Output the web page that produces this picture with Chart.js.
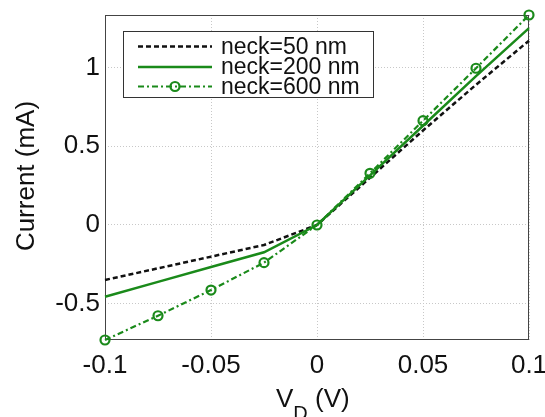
<!DOCTYPE html>
<html>
<head>
<meta charset="utf-8">
<script src="https://cdn.jsdelivr.net/npm/chart.js@4"></script>
<style>
  html, body { margin: 0; padding: 0; background: #fff; }
  #wrap { width: 545px; height: 417px; }
</style>
</head>
<body>
<div id="wrap"><canvas id="iv-chart"></canvas></div>
<script>
// drain voltage (V)
const vd = [-0.1, -0.075, -0.05, -0.025, 0, 0.025, 0.05, 0.075, 0.1];
// current (mA) per neck width
const neck50 = [-0.349, -0.275, -0.201, -0.127, 0, 0.30, 0.60, 0.89, 1.17];
const neck200 = [-0.455, -0.361, -0.267, -0.173, 0, 0.315, 0.63, 0.945, 1.25];
const neck600 = [-0.73, -0.576, -0.413, -0.239, 0, 0.328, 0.662, 0.995, 1.333];
const seriesLabels = ['neck=50 nm', 'neck=200 nm', 'neck=600 nm'];
const yTicks = [-0.5, 0, 0.5, 1];

const green = '#1a8a1a';
const fontFam = '"Liberation Sans", Arial, sans-serif';

const toPts = ys => vd.map((x, i) => ({x: x, y: ys[i]}));

// box round the plot, legend and axis titles
const frame = {
    id: 'frame',
    beforeDatasetsDraw(chart) {
        const ctx = chart.ctx;
        const a = chart.chartArea;
        ctx.save();
        ctx.strokeStyle = '#444';
        ctx.lineWidth = 1;
        ctx.setLineDash([]);
        ctx.strokeRect(Math.round(a.left) + 0.5, Math.round(a.top) + 0.5,
            Math.round(a.right - a.left) - 1, Math.round(a.bottom - a.top) - 1);
        ctx.restore();
    },
    afterDraw(chart) {
        const ctx = chart.ctx;
        ctx.save();
        // legend
        const lx = 123.5, ly = 31.5, lw = 250, lh = 66;
        ctx.fillStyle = '#fff';
        ctx.fillRect(lx, ly, lw, lh);
        ctx.strokeStyle = '#333';
        ctx.lineWidth = 1;
        ctx.strokeRect(lx, ly, lw, lh);
        const rows = [46.5, 67, 86.5];
        chart.data.datasets.forEach((ds, i) => {
            const y = rows[i];
            ctx.strokeStyle = ds.borderColor;
            ctx.lineWidth = ds.borderWidth;
            ctx.setLineDash(ds.borderDash || []);
            ctx.beginPath();
            ctx.moveTo(138, y);
            ctx.lineTo(212, y);
            ctx.stroke();
            ctx.setLineDash([]);
            if (ds.pointRadius > 0) {
                ctx.lineWidth = ds.pointBorderWidth;
                ctx.beginPath();
                ctx.arc(175, y, ds.pointRadius, 0, Math.PI * 2);
                ctx.stroke();
            }
            ctx.fillStyle = '#111';
            ctx.font = '23px ' + fontFam;
            ctx.textBaseline = 'middle';
            ctx.textAlign = 'left';
            ctx.fillText(ds.label, 221, y + 1);
        });

        // y title
        ctx.fillStyle = '#111';
        ctx.save();
        ctx.translate(27, 176);
        ctx.rotate(-Math.PI / 2);
        ctx.font = '26px ' + fontFam;
        ctx.textAlign = 'center';
        ctx.textBaseline = 'middle';
        ctx.fillText('Current (mA)', 0, 0);
        ctx.restore();

        // x title with subscript
        ctx.textAlign = 'left';
        ctx.textBaseline = 'alphabetic';
        let x = 276;
        ctx.font = '26px ' + fontFam;
        ctx.fillText('V', x, 407);
        x += ctx.measureText('V').width;
        ctx.font = '20px ' + fontFam;
        ctx.fillText('D', x, 420);
        x += ctx.measureText('D').width;
        ctx.font = '26px ' + fontFam;
        ctx.fillText(' (V)', x, 407);
        ctx.restore();
    }
};

new Chart(document.getElementById('iv-chart').getContext('2d'), {
    type: 'line',
    data: {
        datasets: [
            {
                label: seriesLabels[0],
                data: toPts(neck50),
                borderColor: '#111',
                borderWidth: 2.5,
                borderDash: [5, 3],
                pointRadius: 0,
                clip: false,
                order: 3
            },
            {
                label: seriesLabels[1],
                data: toPts(neck200),
                borderColor: green,
                borderWidth: 2.5,
                pointRadius: 0,
                clip: false,
                order: 2
            },
            {
                label: seriesLabels[2],
                data: toPts(neck600),
                borderColor: green,
                borderWidth: 2.2,
                borderDash: [6, 3, 2, 3],
                pointRadius: 4.5,
                pointBorderWidth: 2.2,
                pointBorderColor: green,
                pointBackgroundColor: 'rgba(255,255,255,0)',
                clip: false,
                order: 1
            }
        ]
    },
    options: {
        responsive: true,
        maintainAspectRatio: false,
        animation: false,
        events: [],
        layout: { padding: { top: 15, right: 16, left: 0, bottom: 0 } },
        plugins: { legend: { display: false }, tooltip: { enabled: false } },
        scales: {
            x: {
                type: 'linear',
                min: -0.1,
                max: 0.1,
                ticks: {
                    stepSize: 0.05,
                    maxRotation: 0,
                    autoSkip: false,
                    padding: 10,
                    color: '#111',
                    font: { family: fontFam, size: 26 },
                    callback: v => String(Math.round(v * 1000) / 1000)
                },
                grid: { color: '#c8c8c8', drawTicks: false, lineWidth: 1 },
                border: { display: false, dash: [1, 2] },
                afterFit(s) { s.height = 77; s.paddingLeft = 0; s.paddingRight = 0; }
            },
            y: {
                type: 'linear',
                min: -0.73,
                max: 1.333,
                afterBuildTicks(s) { s.ticks = yTicks.map(v => ({value: v})); },
                ticks: {
                    padding: 5,
                    color: '#111',
                    font: { family: fontFam, size: 26 },
                    callback: v => String(v)
                },
                grid: { color: '#c8c8c8', drawTicks: false, lineWidth: 1 },
                border: { display: false, dash: [1, 2] },
                afterFit(s) { s.width = 105; s.paddingTop = 0; s.paddingBottom = 0; }
            }
        }
    },
    plugins: [frame]
});
</script>
</body>
</html>
